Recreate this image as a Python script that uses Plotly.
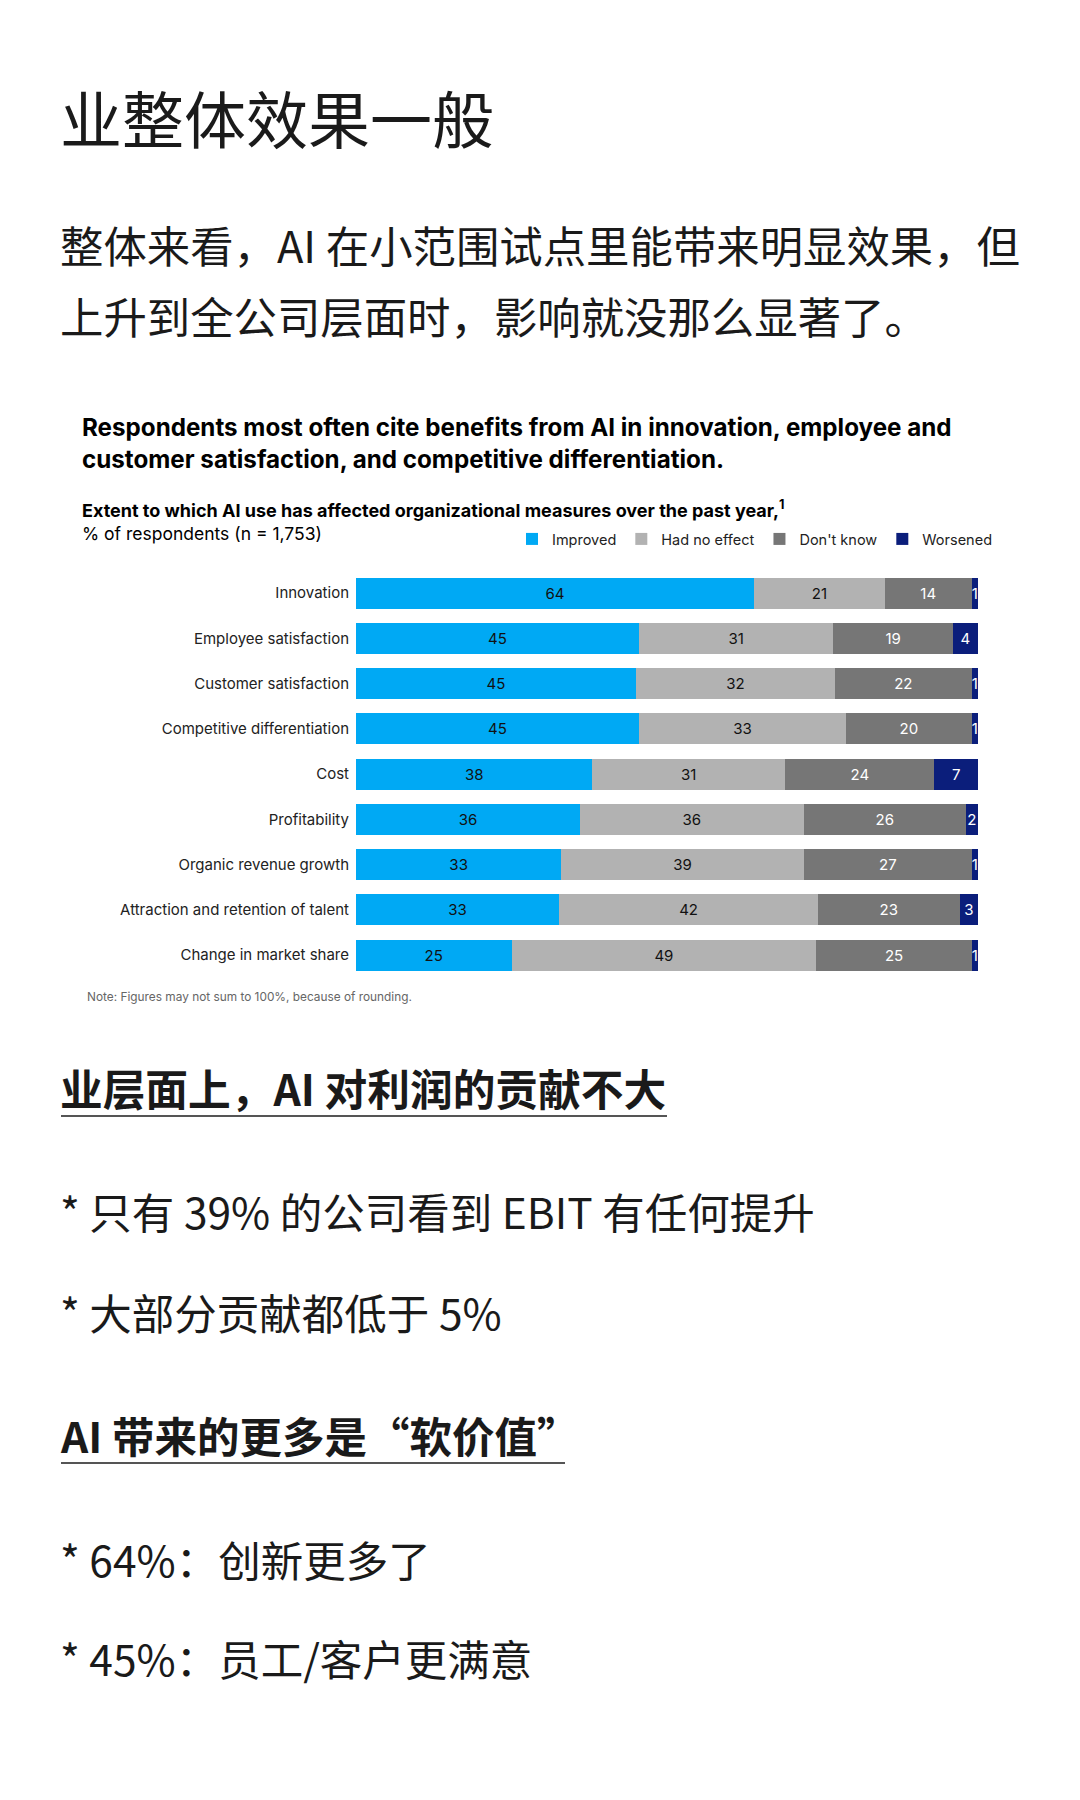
import plotly.graph_objects as go

W, H = 1080, 1800

# ---- data ----
categories = [
    "Innovation",
    "Employee satisfaction",
    "Customer satisfaction",
    "Competitive differentiation",
    "Cost",
    "Profitability",
    "Organic revenue growth",
    "Attraction and retention of talent",
    "Change in market share",
]
improved = [64, 45, 45, 45, 38, 36, 33, 33, 25]
no_effect = [21, 31, 32, 33, 31, 36, 39, 42, 49]
dont_know = [14, 19, 22, 20, 24, 26, 27, 23, 25]
worsened = [1, 4, 1, 1, 7, 2, 1, 3, 1]
series_names = ["Improved", "Had no effect", "Don't know", "Worsened"]
series_values = [improved, no_effect, dont_know, worsened]

# ---- styles ----
series_colors = ["#00A9F4", "#B2B2B2", "#767676", "#0B1E7B"]
label_colors = ["#111111", "#111111", "#FFFFFF", "#FFFFFF"]
CJK = "Noto Sans CJK SC"
LAT = "Inter"
TXT = "#1a1a1a"


def px(x):
    return x / W


def py(y):
    return 1 - y / H


fig = go.Figure()
for name, vals, color, tcolor in zip(series_names, series_values, series_colors, label_colors):
    fig.add_trace(
        go.Bar(
            y=categories,
            x=vals,
            name=name,
            orientation="h",
            marker=dict(color=color, line=dict(width=0)),
            text=vals,
            texttemplate="%{text}",
            textposition="inside",
            insidetextanchor="middle",
            textfont=dict(color=tcolor, size=15, family=LAT),
            hoverinfo="skip",
        )
    )

annotations = []


def add_text(text, x, y, size, family, color=TXT, weight="normal", xanchor="left"):
    annotations.append(
        dict(
            text=text,
            x=px(x),
            y=py(y),
            xref="paper",
            yref="paper",
            xanchor=xanchor,
            yanchor="middle",
            showarrow=False,
            align="left",
            font=dict(size=size, family=family, color=color, weight=weight),
        )
    )


# headline and intro
add_text("业整体效果一般", 58, 117, 62, CJK)
add_text("整体来看，AI 在小范围试点里能带来明显效果，但", 58, 244, 43.4, CJK)
add_text("上升到全公司层面时，影响就没那么显著了。", 58, 315, 43.4, CJK)

# chart titles
add_text("Respondents most often cite benefits from AI in innovation, employee and", 80, 428, 24.2, LAT, "#000000", "bold")
add_text("customer satisfaction, and competitive differentiation.", 80, 459, 24.2, LAT, "#000000", "bold")
add_text("Extent to which AI use has affected organizational measures over the past year,<sup>1</sup>", 80, 509, 18, LAT, "#000000", "bold")
add_text("% of respondents (n = 1,753)", 80, 534, 17.5, LAT, "#000000")
add_text("Note: Figures may not sum to 100%, because of rounding.", 85, 997, 11.85, LAT, "#666666")

# sections
add_text("<b>业层面上，AI 对利润的贡献不大</b>", 58, 1087, 42.7, CJK)
add_text("* 只有 39% 的公司看到 EBIT 有任何提升", 58, 1210, 42.5, CJK)
add_text("* 大部分贡献都低于 5%", 58, 1311, 42.5, CJK)
add_text("<b>AI 带来的更多是“软价值”</b>", 58, 1434, 42.5, CJK)
add_text("* 64%：创新更多了", 58, 1558, 42.5, CJK)
add_text("* 45%：员工/客户更满意", 58, 1657, 42.5, CJK)

shapes = [
    dict(type="line", xref="paper", yref="paper", x0=px(61), x1=px(667), y0=py(1116), y1=py(1116),
         line=dict(color="#555555", width=2)),
    dict(type="line", xref="paper", yref="paper", x0=px(61), x1=px(565), y0=py(1463), y1=py(1463),
         line=dict(color="#555555", width=2)),
]

row_top, row_bottom = 570.5, 977.7

fig.update_layout(
    width=W,
    height=H,
    margin=dict(l=0, r=0, t=0, b=0),
    paper_bgcolor="white",
    plot_bgcolor="white",
    barmode="stack",
    barnorm="percent",
    bargap=0.315,
    uniformtext=dict(minsize=15, mode="show"),
    showlegend=True,
    legend=dict(
        orientation="h",
        x=px(512),
        y=py(539),
        xanchor="left",
        yanchor="middle",
        font=dict(size=14.5, family=LAT, color="#222222"),
        itemwidth=30,
        traceorder="normal",
        bgcolor="rgba(0,0,0,0)",
        itemclick=False,
        itemdoubleclick=False,
    ),
    xaxis=dict(domain=[px(356), px(978)], range=[0, 100], visible=False, fixedrange=True),
    yaxis=dict(
        domain=[py(row_bottom), py(row_top)],
        categoryorder="array",
        categoryarray=categories,
        autorange="reversed",
        showgrid=False,
        zeroline=False,
        showline=False,
        ticks="",
        ticklabelstandoff=6,
        tickfont=dict(size=15, family=LAT, color="#222222"),
        fixedrange=True,
    ),
    annotations=annotations,
    shapes=shapes,
)

fig.write_html("out.html")
